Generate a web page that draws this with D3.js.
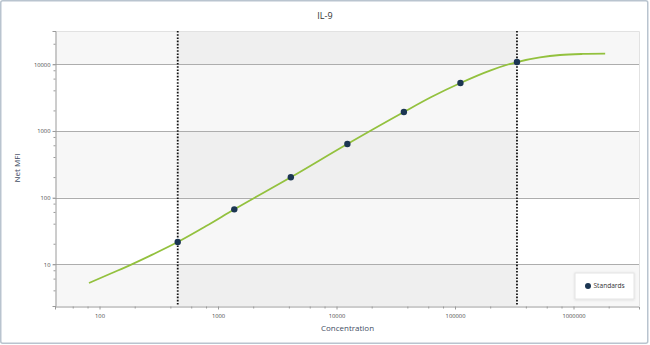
<!DOCTYPE html>
<html>
<head>
<meta charset="utf-8">
<script src="https://cdn.jsdelivr.net/npm/d3@7"></script>
<style>
  html, body { margin: 0; padding: 0; background: #fff; }
  svg { display: block; font-family: "Open Sans", "Noto Sans", sans-serif; }
</style>
</head>
<body>
<svg class="chart" width="650" height="345"></svg>
<script>
// standards (3-fold dilution series) and their net MFI
var standardConc = [457, 1372, 4115, 12346, 37037, 111111, 333333];
var standardMFI = [21.6, 66.8, 202, 638, 1928, 5250, 10830];

// fitted curve
var curveConc = [81.5, 126, 187, 282, 457, 794, 1372, 4115, 12346, 37037, 63100, 111111, 200000, 333333, 521000, 769000, 1200000, 1850000];
var curveMFI = [5.25, 7.35, 10.0, 14.1, 21.6, 37.5, 66.8, 202, 638, 1928, 3230, 5250, 8130, 10830, 12700, 13800, 14300, 14450];

// dotted limit lines (lowest / highest standard)
var limitConc = [457, 333333];

var xTicks = [100, 1000, 10000, 100000, 1000000];
var yTicks = [10, 100, 1000, 10000];
var xDomain = [42.1, 3.57e6];
var yDomain = [2.37, 31600];

var svg = d3.select(".chart"),
    width = +svg.attr("width"),
    height = +svg.attr("height");

var plotLeft = 55, plotRight = 639, plotTop = 31, plotBottom = 306;

var x = d3.scaleLog().domain(xDomain).range([plotLeft, plotRight]);
var y = d3.scaleLog().domain(yDomain).range([plotBottom, plotTop]);

// outer frame
svg.append("rect")
    .attr("x", 0.75).attr("y", 0.75)
    .attr("width", width - 3).attr("height", height - 2.5)
    .attr("rx", 2)
    .attr("fill", "#fff")
    .attr("stroke", "#b9c4cf")
    .attr("stroke-width", 1.5);

// alternating bands between decades
var bandEdges = [yDomain[0]].concat(yTicks).concat([yDomain[1]]);
var bands = d3.pairs(bandEdges);
svg.append("g").selectAll("rect")
    .data(bands)
    .enter().append("rect")
    .attr("x", plotLeft)
    .attr("width", plotRight - plotLeft)
    .attr("y", function(d) { return y(d[1]); })
    .attr("height", function(d) { return y(d[0]) - y(d[1]); })
    .attr("fill", function(d, i) { return i % 2 === 0 ? "#f7f7f7" : "#ffffff"; });

// shaded range between the limits
svg.append("rect")
    .attr("x", x(limitConc[0]))
    .attr("width", x(limitConc[1]) - x(limitConc[0]))
    .attr("y", plotTop)
    .attr("height", plotBottom - plotTop)
    .attr("fill", "#000")
    .attr("fill-opacity", 0.032);

// plot border (top / right)
svg.append("path")
    .attr("d", "M" + plotLeft + "," + (plotTop + 0.5) + "H" + (plotRight + 0.5) + "V" + plotBottom)
    .attr("fill", "none")
    .attr("stroke", "#e2e2e2");

// horizontal gridlines
svg.append("g").selectAll("line")
    .data(yTicks)
    .enter().append("line")
    .attr("x1", plotLeft - 2).attr("x2", plotRight)
    .attr("y1", function(d) { return Math.round(y(d)) + 0.5; })
    .attr("y2", function(d) { return Math.round(y(d)) + 0.5; })
    .attr("stroke", "#adadad");

// minor ticks
function minors(domain) {
    var out = [];
    for (var e = -1; e < 8; e++) {
        [2, 4, 6, 8].forEach(function(m) {
            var v = m * Math.pow(10, e);
            if (v > domain[0] && v < domain[1]) out.push(v);
        });
    }
    return out;
}

// y axis
var yAxis = d3.axisLeft(y)
    .tickValues(yTicks)
    .tickFormat(d3.format("d"))
    .tickSize(3)
    .tickPadding(2);
var gy = svg.append("g")
    .attr("transform", "translate(" + (plotLeft + 0.5) + ",0)")
    .call(yAxis);
gy.append("g").selectAll("line")
    .data(minors(yDomain))
    .enter().append("line")
    .attr("x1", -2).attr("x2", 0)
    .attr("y1", function(d) { return y(d); })
    .attr("y2", function(d) { return y(d); })
    .attr("stroke", "#9a9a9a");

// x axis
var xAxis = d3.axisBottom(x)
    .tickValues(xTicks)
    .tickFormat(d3.format("d"))
    .tickSize(3)
    .tickPadding(4);
var gx = svg.append("g")
    .attr("transform", "translate(0," + (plotBottom + 0.5) + ")")
    .call(xAxis);
gx.append("g").selectAll("line")
    .data(minors(xDomain))
    .enter().append("line")
    .attr("y1", 0).attr("y2", 2)
    .attr("x1", function(d) { return x(d); })
    .attr("x2", function(d) { return x(d); })
    .attr("stroke", "#9a9a9a");

[gx, gy].forEach(function(g) {
    g.select(".domain").attr("stroke", "#9a9a9a");
    g.selectAll(".tick line").attr("stroke", "#9a9a9a");
    g.selectAll(".tick text")
        .attr("fill", "#4a4a4a")
        .style("font-size", "5.8px")
        .style("font-family", "'Open Sans', sans-serif");
});

// dotted limit lines
svg.append("g").selectAll("line")
    .data(limitConc)
    .enter().append("line")
    .attr("x1", function(d) { return x(d); })
    .attr("x2", function(d) { return x(d); })
    .attr("y1", plotTop).attr("y2", plotBottom)
    .attr("stroke", "#111")
    .attr("stroke-width", 1.8)
    .attr("stroke-dasharray", "1.6,1.6");

// fitted curve
var curve = curveConc.map(function(c, i) { return [c, curveMFI[i]]; });
var line = d3.line()
    .x(function(d) { return x(d[0]); })
    .y(function(d) { return y(d[1]); })
    .curve(d3.curveMonotoneX);
svg.append("path")
    .datum(curve)
    .attr("d", line)
    .attr("fill", "none")
    .attr("stroke", "#93c13e")
    .attr("stroke-width", 1.8);

// standards
svg.append("g").selectAll("circle")
    .data(standardConc.map(function(c, i) { return [c, standardMFI[i]]; }))
    .enter().append("circle")
    .attr("cx", function(d) { return x(d[0]); })
    .attr("cy", function(d) { return y(d[1]); })
    .attr("r", 3.2)
    .attr("fill", "#1b3552");

// title and axis labels
svg.append("text")
    .attr("x", 325).attr("y", 18.5)
    .attr("text-anchor", "middle")
    .style("font-size", "9px")
    .attr("fill", "#333")
    .text("IL-9");

svg.append("text")
    .attr("x", 347.5).attr("y", 331)
    .attr("text-anchor", "middle")
    .style("font-size", "8px")
    .attr("fill", "#3f4d63")
    .text("Concentration");

svg.append("text")
    .attr("transform", "translate(20,168) rotate(-90)")
    .attr("text-anchor", "middle")
    .style("font-size", "8px")
    .attr("fill", "#3f4d63")
    .text("Net MFI");

// legend
var defs = svg.append("defs");
var f = defs.append("filter").attr("id", "shadow")
    .attr("x", "-20%").attr("y", "-30%").attr("width", "140%").attr("height", "160%");
f.append("feDropShadow")
    .attr("dx", 0).attr("dy", 0.5)
    .attr("stdDeviation", 0.8)
    .attr("flood-color", "#000")
    .attr("flood-opacity", 0.12);

var lg = svg.append("g").attr("transform", "translate(575,273)");
lg.append("rect")
    .attr("width", 59).attr("height", 26)
    .attr("fill", "#fff")
    .attr("stroke", "#e4e4e4")
    .attr("filter", "url(#shadow)");
lg.append("circle")
    .attr("cx", 13).attr("cy", 13)
    .attr("r", 3)
    .attr("fill", "#1b3552");
lg.append("text")
    .attr("x", 18.5).attr("y", 15.3)
    .style("font-size", "6.6px")
    .attr("fill", "#333")
    .text("Standards");
</script>
</body>
</html>
